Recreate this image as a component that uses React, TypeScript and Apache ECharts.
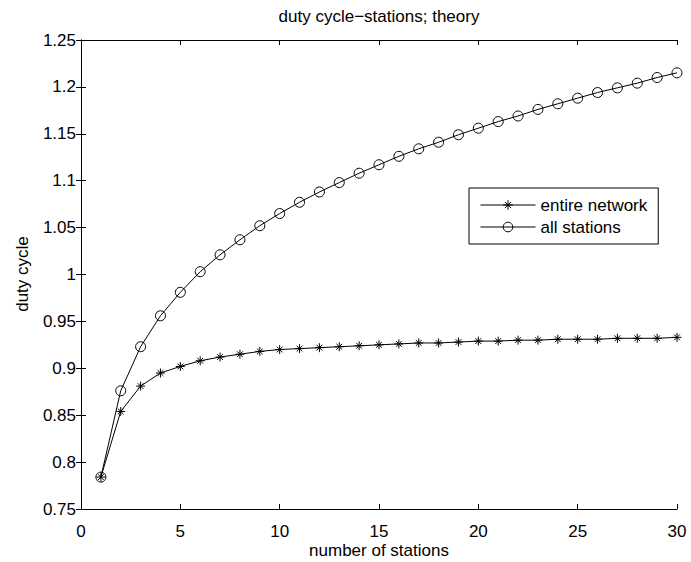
import React, { useEffect, useRef } from "react";
import * as echarts from "echarts";

const stations = [1, 2, 3, 4, 5, 6, 7, 8, 9, 10, 11, 12, 13, 14, 15, 16, 17, 18, 19, 20, 21, 22, 23, 24, 25, 26, 27, 28, 29, 30];

const entireNetwork = [
  0.784, 0.854, 0.881, 0.895, 0.902, 0.908, 0.912, 0.915, 0.918, 0.92,
  0.921, 0.922, 0.923, 0.924, 0.925, 0.926, 0.927, 0.927, 0.928, 0.929,
  0.929, 0.93, 0.93, 0.931, 0.931, 0.931, 0.932, 0.932, 0.932, 0.933,
];

const allStations = [
  0.784, 0.876, 0.923, 0.956, 0.981, 1.003, 1.021, 1.037, 1.052, 1.065,
  1.077, 1.088, 1.098, 1.108, 1.117, 1.126, 1.134, 1.141, 1.149, 1.156,
  1.163, 1.169, 1.176, 1.182, 1.188, 1.194, 1.199, 1.204, 1.21, 1.215,
];

const seriesNames = ["entire network", "all stations"];
const titleText = "duty cycle\u2212stations; theory";
const xLabel = "number of stations";
const yLabel = "duty cycle";

const FONT = "'Liberation Sans', Arial, Helvetica, sans-serif";
const FS = 17;
const STAR = "path://M5,0L5,10M0,5L10,5M1.8,1.8L8.2,8.2M1.8,8.2L8.2,1.8";

export default function App() {
  const ref = useRef<HTMLDivElement>(null);
  useEffect(() => {
    if (!ref.current) return;
    const chart = echarts.init(ref.current, null, { renderer: "svg" });
    const fmtY = (v: number) => String(Math.round(v * 100) / 100);
    const axisCommon = {
      axisLine: { show: true, lineStyle: { color: "#000", width: 1 } },
      axisTick: { show: true, inside: true, length: 5, lineStyle: { color: "#000", width: 1 } },
      splitLine: { show: false },
    };
    chart.setOption({
      animation: false,
      backgroundColor: "#fff",
      textStyle: { fontFamily: FONT },
      grid: { left: 81, right: 14, top: 40, bottom: 53, containLabel: false },
      xAxis: [
        {
          type: "value", min: 0, max: 30, interval: 5, position: "bottom",
          ...axisCommon,
          axisLabel: { color: "#000", fontSize: FS, fontFamily: FONT, margin: 14 },
        },
        {
          type: "value", min: 0, max: 30, interval: 5, position: "top",
          ...axisCommon,
          axisLabel: { show: false },
        },
      ],
      yAxis: [
        {
          type: "value", min: 0.75, max: 1.25, interval: 0.05, position: "left",
          ...axisCommon,
          axisLabel: { color: "#000", fontSize: FS, fontFamily: FONT, margin: 5, formatter: fmtY },
        },
        {
          type: "value", min: 0.75, max: 1.25, interval: 0.05, position: "right",
          ...axisCommon,
          axisLabel: { show: false },
        },
      ],
      legend: {
        orient: "vertical",
        left: 469,
        top: 188,
        data: seriesNames,
        backgroundColor: "#fff",
        borderColor: "#000",
        borderWidth: 1,
        borderRadius: 0,
        padding: [8, 11, 8, 11],
        itemWidth: 55,
        itemHeight: 12,
        itemGap: 4,
        itemStyle: { borderWidth: 1, borderColor: "#000", color: "rgba(0,0,0,0)" },
        lineStyle: { width: 1, color: "#000" },
        textStyle: { color: "#000", fontSize: FS, fontFamily: FONT, lineHeight: 18 },
      },
      graphic: [
        {
          type: "text", x: 379, y: 16,
          style: { text: titleText, fill: "#000", font: `${FS}px ${FONT}`, textAlign: "center", textVerticalAlign: "middle" },
        },
        {
          type: "text", x: 379, y: 550,
          style: { text: xLabel, fill: "#000", font: `${FS}px ${FONT}`, textAlign: "center", textVerticalAlign: "middle" },
        },
        {
          type: "text", x: 22, y: 274, rotation: Math.PI / 2,
          style: { text: yLabel, fill: "#000", font: `${FS}px ${FONT}`, textAlign: "center", textVerticalAlign: "middle" },
        },
      ],
      series: [
        {
          name: seriesNames[0],
          type: "line",
          data: stations.map((s, i) => [s, entireNetwork[i]]),
          symbol: STAR,
          symbolSize: 9,
          showAllSymbol: true,
          lineStyle: { color: "#000", width: 1 },
          itemStyle: { color: "rgba(0,0,0,0)", borderColor: "#000", borderWidth: 1 },
          emphasis: { disabled: true },
        },
        {
          name: seriesNames[1],
          type: "line",
          data: stations.map((s, i) => [s, allStations[i]]),
          symbol: "circle",
          symbolSize: 10,
          showAllSymbol: true,
          lineStyle: { color: "#000", width: 1 },
          itemStyle: { color: "rgba(0,0,0,0)", borderColor: "#000", borderWidth: 1 },
          emphasis: { disabled: true },
        },
      ],
    });
    return () => chart.dispose();
  }, []);
  return (
    <div
      ref={ref}
      style={{ position: "fixed", left: 0, top: 0, width: 691, height: 562 }}
    />
  );
}
